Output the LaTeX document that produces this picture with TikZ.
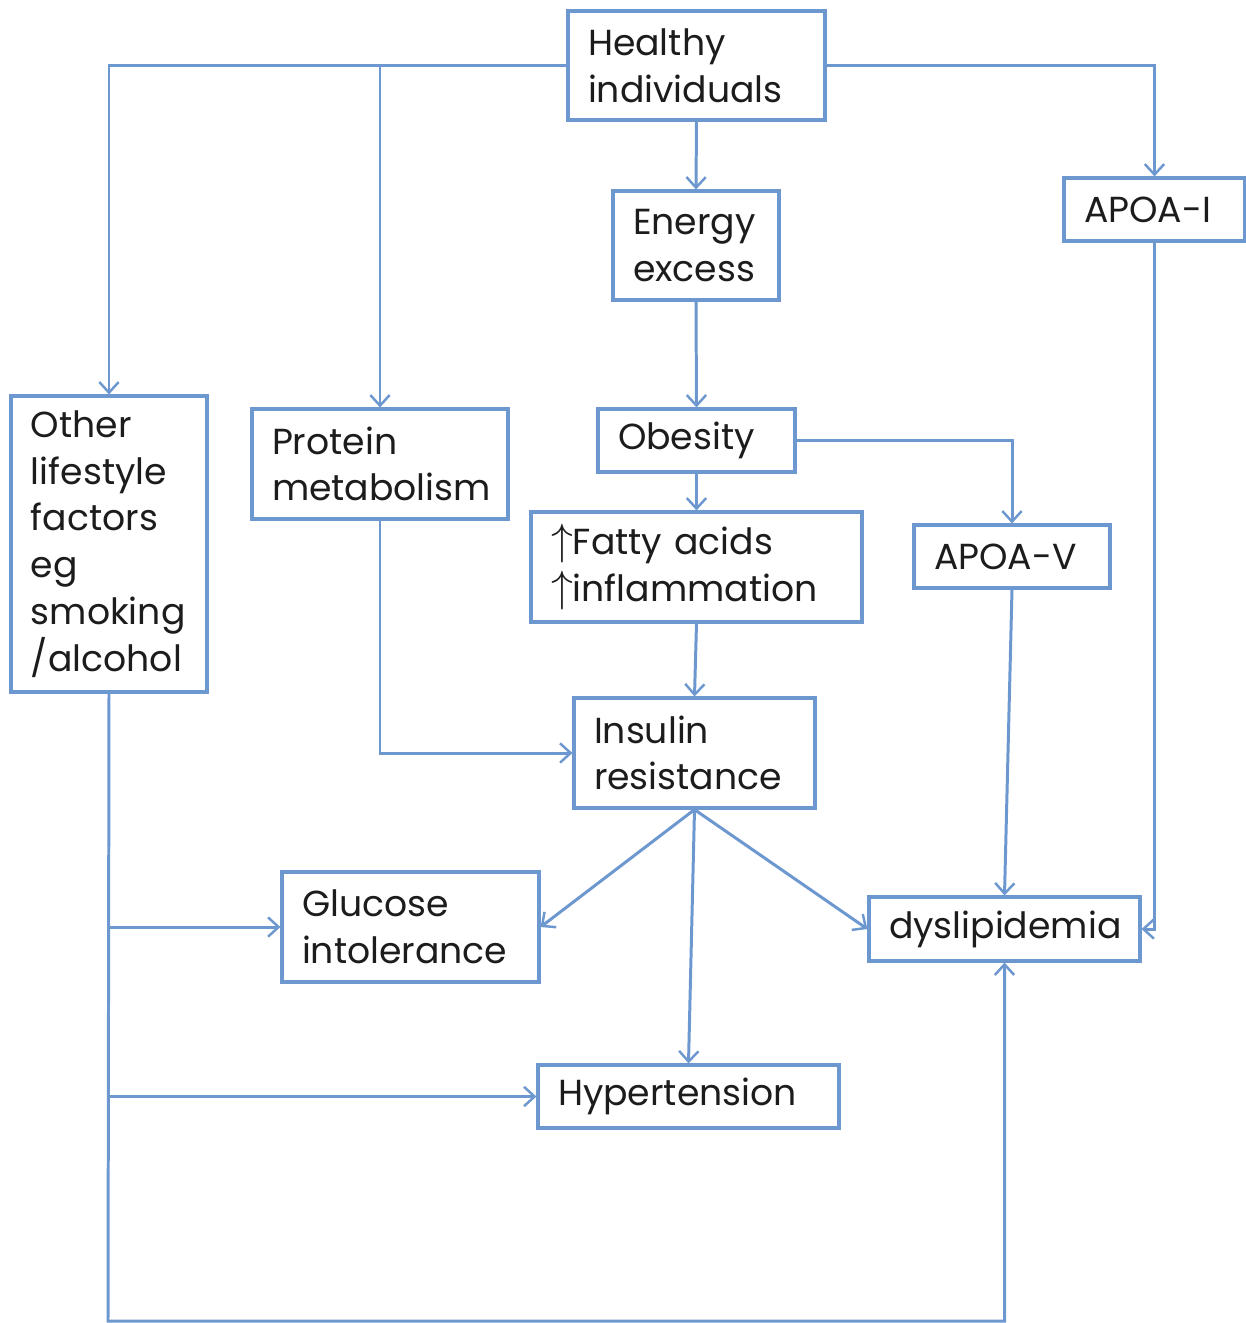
\documentclass[tikz,border=0pt]{standalone}
\usepackage{fontspec}
\setmainfont{Poppins}
\usetikzlibrary{arrows.meta}
\definecolor{ln}{HTML}{6C97CF}
\definecolor{tx}{HTML}{1C1C1C}
\newcommand{\upar}{{\fontsize{27}{27}\selectfont$\uparrow$}}
\begin{document}
\begin{tikzpicture}[x=0.02cm,y=-0.02cm,
  bx/.style 2 args={draw=ln,line width=1.8pt,rectangle,inner xsep=0.4cm,inner ysep=0pt,
    minimum width={#1*0.02cm},minimum height={#2*0.02cm},text width={(#1-40)*0.02cm},
    align=left,text=tx,font=\fontsize{20.6}{26.6}\selectfont},
  conn/.style={draw=ln,line width=1.7pt},
  arr/.style={conn,-{Straight Barb[length=6pt,width=11pt,line width=1.4pt]}}]
\useasboundingbox (0,0) rectangle (1246,1323);
\node[bx={257}{109}] (healthy) at (696.5,65.5) {Healthy\\individuals};
\node[bx={166}{109}] (energy) at (696,245.5) {Energy\\excess};
\node[bx={181}{63}] (apoa1) at (1154.5,209.5) {APOA-I};
\node[bx={196}{296}] (other) at (109,544) {Other\\lifestyle\\factors\\eg\\smoking\\/alcohol};
\node[bx={256}{110}] (protein) at (380,464) {Protein\\metabolism};
\node[bx={197}{63}] (obesity) at (696.5,440.5) {Obesity};
\node[bx={331}{110}] (fatty) at (696.5,567) {\upar Fatty acids\\\upar inflammation};
\node[bx={196}{63}] (apoa5) at (1012,556.5) {APOA-V};
\node[bx={241}{110}] (insulin) at (694.5,753) {Insulin\\resistance};
\node[bx={257}{110}] (glucose) at (410.5,927) {Glucose\\intolerance};
\node[bx={271}{64}] (dys) at (1004.5,929) {dyslipidemia};
\node[bx={301}{63}] (hyper) at (688.5,1096.5) {Hypertension};
\coordinate (cb) at (108,1321);
% connectors
\draw[arr] (healthy.west) -| (other.north);
\draw[arr] (healthy.west -| protein.north) -- (protein.north);
\draw[arr] (healthy.east) -| (apoa1.north);
\draw[arr] (healthy.south) -- (energy.north);
\draw[arr] (energy.south) -- (obesity.north);
\draw[arr] (obesity.south) -- (fatty.north);
\draw[arr] (fatty.south) -- (insulin.north);
\draw[arr] (obesity.east) -| (apoa5.north);
\draw[arr] (protein.south) |- (insulin.west);
\draw[arr] (apoa1.south) |- (dys.east);
\draw[arr] (apoa5.south) -- (dys.north);
\draw[arr] (insulin.south) -- (glucose.east);
\draw[arr] (insulin.south) -- (dys.west);
\draw[arr] (insulin.south) -- (hyper.north);
\draw[arr] (other.south) -- (cb) -| (dys.south);
\draw[arr] (other.south |- glucose.west) -- (glucose.west);
\draw[arr] (other.south |- hyper.west) -- (hyper.west);
\end{tikzpicture}
\end{document}
